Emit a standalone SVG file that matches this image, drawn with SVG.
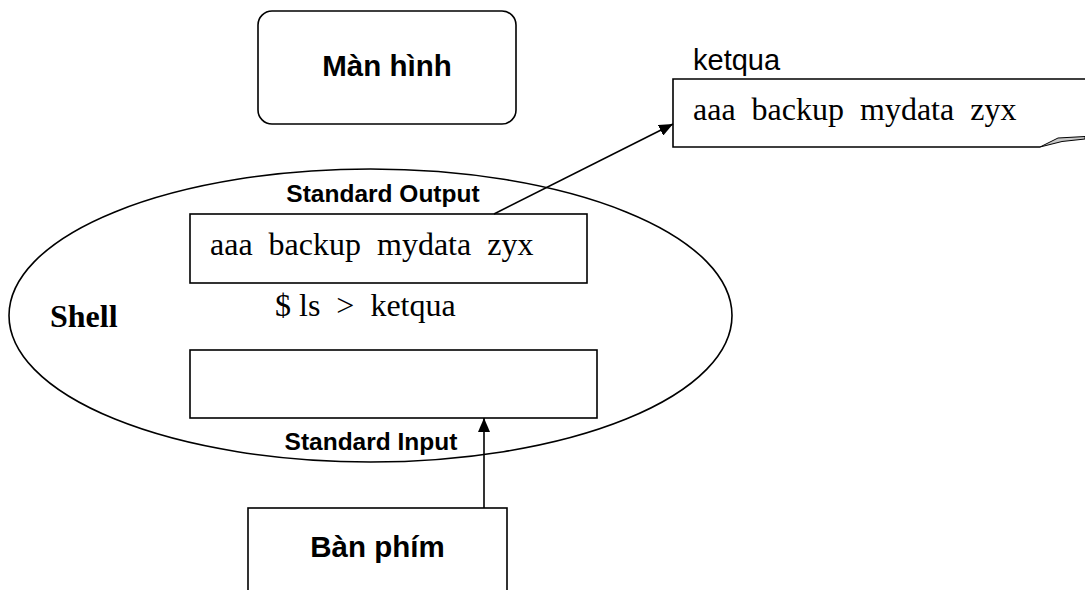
<svg xmlns="http://www.w3.org/2000/svg" width="1085" height="590" viewBox="0 0 1085 590">
<defs>
<style>
.ln{fill:none;stroke:#000;stroke-width:1.6}
.bx{fill:#fff;stroke:#000;stroke-width:1.6}
.sans{font-family:"Liberation Sans",Arial,sans-serif;fill:#000}
.serif{font-family:"Liberation Serif","Times New Roman",serif;fill:#000;white-space:pre}
.b{font-weight:bold}
</style>
<marker id="ah" markerUnits="userSpaceOnUse" markerWidth="14" markerHeight="12" refX="14" refY="6" orient="auto">
<path d="M0,0 L14,6 L0,12 z" fill="#000"/>
</marker>
</defs>
<rect width="1085" height="590" fill="#fff"/>
<g id="shell">
<ellipse class="ln" cx="370.5" cy="315.5" rx="361.5" ry="146.5"/>
<text class="serif b" x="50" y="327" font-size="32">Shell</text>
<text class="serif" x="275" y="316" font-size="32">$ ls  &gt;  ketqua</text>
</g>
<g id="stdout">
<rect class="bx" x="190" y="214" width="397" height="69"/>
<text class="serif" x="210" y="255" font-size="32">aaa  backup  mydata  zyx</text>
<text class="sans b" x="383" y="202" font-size="24.5" text-anchor="middle">Standard Output</text>
</g>
<g id="stdin">
<rect class="bx" x="190" y="350" width="407" height="68"/>
<text class="sans b" x="371" y="450" font-size="24.5" text-anchor="middle">Standard Input</text>
</g>
<g id="manhinh">
<rect class="bx" x="258" y="11" width="258" height="113" rx="14"/>
<text class="sans b" x="387" y="76" font-size="29.5" text-anchor="middle">Màn hình</text>
</g>
<g id="banphim">
<rect class="bx" x="248" y="508" width="259" height="100"/>
<text class="sans b" x="377.5" y="557" font-size="29.5" text-anchor="middle">Bàn phím</text>
</g>
<g id="ketqua">
<path class="ln" d="M1090,79 H673 V147 H1040"/>
<path d="M1040,147 L1058,138 L1085,136.5 L1085,139 L1062,141.5 z" fill="#c8c8c8" stroke="#000" stroke-width="1"/>
<text class="sans" x="693" y="70" font-size="29">ketqua</text>
<text class="serif" x="693" y="120" font-size="32">aaa  backup  mydata  zyx</text>
</g>
<g id="connectors">
<line class="ln" x1="494" y1="214" x2="673" y2="124" marker-end="url(#ah)"/>
<line class="ln" x1="484" y1="508" x2="484" y2="418" marker-end="url(#ah)"/>
</g>
</svg>
